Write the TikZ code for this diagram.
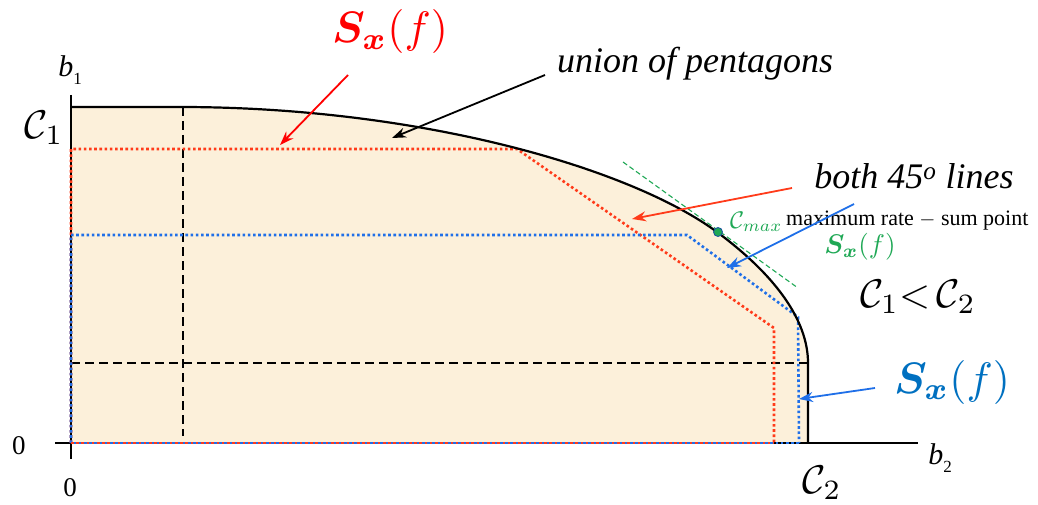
\documentclass[tikz,border=0pt]{standalone}
\usepackage{amsmath}
\usepackage{bm}
\usepackage{graphicx}
\usepackage{fontspec}
\setmainfont{Liberation Serif}
\usetikzlibrary{arrows.meta}
\definecolor{fillc}{HTML}{FCF0DA}
\definecolor{redd}{HTML}{FF3B1A}
\definecolor{bluu}{HTML}{1F6FE8}
\definecolor{grn}{HTML}{1FA855}
\definecolor{sred}{HTML}{FF0000}
\definecolor{sblue}{HTML}{0070C0}
\begin{document}
\begin{tikzpicture}[x=1pt,y=-1pt,
  bound/.style={line width=2.2pt,black},
  axis/.style={line width=2pt,black},
  reddot/.style={redd,line width=2.6pt,dash pattern=on 2.6pt off 2.6pt},
  bluedot/.style={bluu,line width=2.6pt,dash pattern=on 2.6pt off 2.6pt},
  guide/.style={black,line width=1.3pt,dash pattern=on 9pt off 5pt},
  ptr/.style={line width=1.8pt,-{Stealth[length=14pt,width=10pt]}},
  lab/.style={inner sep=0pt,anchor=center}]
\useasboundingbox (0,0) rectangle (1038,505);
% region
\fill[fillc] (71,443) -- (71,107) -- (180,107) .. controls (420,107) and (630,168) .. (717,232) .. controls (775,275) and (808,320) .. (808,363) -- (808,443) -- cycle;
% axes
\draw[axis] (71,95) -- (71,459);
\draw[axis] (55,443) -- (918,443);
% guides
\draw[guide] (183,107) -- (183,436);
\draw[guide] (71,363) -- (808,363);
% pentagons
\draw[reddot] (71,443) -- (71,149) -- (517,149) -- (774,328) -- (774,443);
\draw[bluedot] (71,443) -- (71,235) -- (687,235) -- (798,317) -- (799,443);
\draw[reddot] (71,443) -- (774,443);
\draw[bluedot,dash phase=2.6pt] (71,443) -- (799,443);
% tangent
\draw[grn,line width=1.1pt,dash pattern=on 5pt off 3pt] (623,162) -- (798,288);
% boundary
\draw[bound] (71,107) -- (180,107) .. controls (420,107) and (630,168) .. (717,232) .. controls (775,275) and (808,320) .. (808,363) -- (808,443);
% max point
\node[circle,fill=grn,draw=bluu!70!black,line width=0.8pt,minimum size=9pt,inner sep=0pt] (cmax) at (718,232) {};
% labels
\node[lab] (b1) at (70,70) {\fontsize{30}{34}\selectfont\itshape b\raisebox{-8pt}{\fontsize{17}{20}\selectfont\upshape 1}};
\node[lab] (b2) at (940,458) {\fontsize{30}{34}\selectfont\itshape b\raisebox{-8pt}{\fontsize{17}{20}\selectfont\upshape 2}};
\node[lab] (c1) at (44,128) {\scalebox{4}{$\mathcal{C}_1$}};
\node[lab] (c2) at (822,483) {\scalebox{4}{$\mathcal{C}_2$}};
\node[lab] (z1) at (19,446) {\fontsize{27}{32}\selectfont 0};
\node[lab] (z2) at (70,488) {\fontsize{27}{32}\selectfont 0};
\node[lab,text=sred] (sred) at (390,32) {\scalebox{4.4}{$\bm{S_x}(f)$}};
\node[lab] (union) at (695,64) {\fontsize{36}{42}\selectfont\itshape union of pentagons};
\node[lab] (both) at (914,176) {\fontsize{36}{42}\selectfont\itshape both 45\textsuperscript{o} lines};
\node[lab,anchor=west,text=grn] (cm) at (730,222) {\scalebox{2.4}{$\mathcal{C}_{max}$}};
\node[lab,anchor=west] (msp) at (786,221) {\fontsize{22}{26}\selectfont maximum rate $-$ sum point};
\node[lab,text=grn] (sgrn) at (860,247) {\scalebox{2.7}{$\bm{S_x}(f)$}};
\node[lab] (ineq) at (918,297) {\scalebox{4}{$\mathcal{C}_1{<}\,\mathcal{C}_2$}};
\node[lab,text=sblue] (sblu) at (952,382) {\scalebox{4.4}{$\bm{S_x}(f)$}};
% arrow ends
\coordinate (fR) at (348,75);  \coordinate (tR) at (280,145);
\coordinate (fU) at (545,75);  \coordinate (tU) at (392,138);
\coordinate (fB) at (792,188); \coordinate (tB) at (632,219);
\coordinate (fG) at (854,204); \coordinate (tG) at (727,268);
\coordinate (fS) at (875,388); \coordinate (tS) at (799,399);
\draw[ptr,sred] (fR) -- (tR);
\draw[ptr,black] (fU) -- (tU);
\draw[ptr,redd] (fB) -- (tB);
\draw[ptr,bluu] (fG) -- (tG);
\draw[ptr,bluu] (fS) -- (tS);
\end{tikzpicture}
\end{document}
